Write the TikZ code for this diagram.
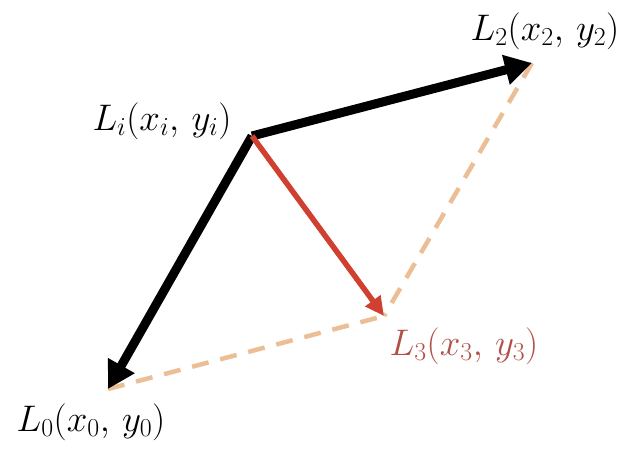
\RequirePackage{fix-cm}
\documentclass[tikz,border=0pt]{standalone}
\usetikzlibrary{arrows.meta}
\definecolor{redvec}{RGB}{208,64,48}
\definecolor{dashc}{RGB}{236,190,150}
\definecolor{labred}{RGB}{178,80,72}
\tikzset{
  blackvec/.style={line width=9pt, -{Triangle[length=27pt,width=29pt]}},
  redarrow/.style={draw=redvec, line width=5.5pt, -{Triangle[length=19pt,width=18pt]}},
  dashline/.style={draw=dashc, line width=4.5pt, dash pattern=on 17pt off 12pt},
  lab/.style={font=\fontsize{37}{44}\selectfont, inner sep=0pt},
}
\begin{document}
\begin{tikzpicture}[x=1pt,y=-1pt]
\useasboundingbox (0,0) rectangle (642,459);
\coordinate (Li) at (252,136);
\coordinate (L2) at (532,63);
\coordinate (L0) at (108,389);
\coordinate (L3) at (384,316);
\draw[dashline] (L2) -- (L3);
\draw[dashline] (L0) -- (L3);
\draw[blackvec] (Li) -- (L2);
\draw[blackvec] (Li) -- (L0);
\draw[redarrow] (Li) -- (L3);
\node[lab] (tLi) at (162,121) {$L_i(x_i,\,y_i)$};
\node[lab] (tL2) at (545,31) {$L_2(x_2,\,y_2)$};
\node[lab] (tL0) at (91,422) {$L_0(x_0,\,y_0)$};
\node[lab, text=labred] (tL3) at (464,346) {$L_3(x_3,\,y_3)$};
\end{tikzpicture}
\end{document}
